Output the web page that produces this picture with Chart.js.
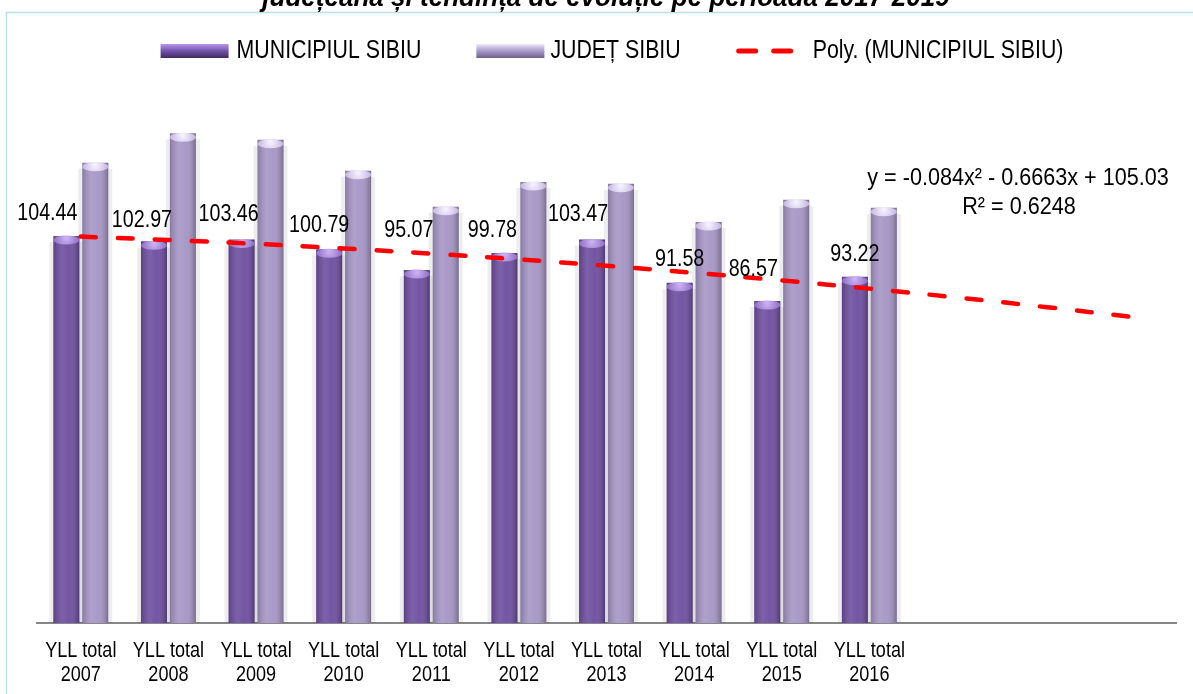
<!DOCTYPE html>
<html>
<head>
<meta charset="utf-8">
<script src="https://cdn.jsdelivr.net/npm/chart.js@4.4.1/dist/chart.umd.min.js"></script>
<style>
  html, body { margin: 0; padding: 0; background: #fff; }
  #wrap { position: relative; width: 1193px; height: 694px; }
</style>
</head>
<body>
<div id="wrap"><canvas id="yllChart"></canvas></div>
<script>
// values
const categories = [
  ['YLL total', '2007'], ['YLL total', '2008'], ['YLL total', '2009'], ['YLL total', '2010'],
  ['YLL total', '2011'], ['YLL total', '2012'], ['YLL total', '2013'], ['YLL total', '2014'],
  ['YLL total', '2015'], ['YLL total', '2016'], '', '', ''
];
const seriesNames = ['MUNICIPIUL SIBIU', 'JUDEȚ SIBIU', 'Poly. (MUNICIPIUL SIBIU)'];
const municipiu = [104.44, 102.97, 103.46, 100.79, 95.07, 99.78, 103.47, 91.58, 86.57, 93.22];
const judet = [124.6, 132.7, 130.9, 122.4, 112.5, 119.3, 118.8, 108.3, 114.4, 112.2];
// polynomial trend as drawn (2007..2019)
const polyTrend = [104.28, 103.36, 102.28, 101.02, 99.60, 98.01, 96.25, 94.32, 92.23, 89.97, 87.54, 84.94, 82.17];
const trendEquation = ['y = -0.084x² - 0.6663x + 105.03', 'R² = 0.6248'];
const titleText = 'județeană și tendința de evoluție pe perioada 2017-2019';

// hand placement of the value labels (px, relative to bar top)
const labelNudge = [[-19, -23], [-12, -21], [-13, -25], [-10, -24], [-8, -40],
                    [-12, -23], [-14, -25], [0, -23], [-14, -32], [0, -22]];

// no narrow font installed, so squeeze Liberation Sans horizontally
const FONT = '"Liberation Sans", Arial, sans-serif';
const NARROW = 0.82;

function narrowText(ctx, text, x, y, sx) {
  ctx.save();
  ctx.translate(x, y);
  ctx.scale(sx, 1);
  ctx.fillText(text, 0, 0);
  ctx.restore();
}

const decorPlugin = {
  id: 'decor',
  beforeDraw(chart) {
    const ctx = chart.ctx;
    ctx.save();
    // outer frame
    ctx.strokeStyle = '#b9dfe9';
    ctx.lineWidth = 1.5;
    ctx.strokeRect(6.5, 12.5, 1300, 800);

    // title, cut off at the top
    ctx.fillStyle = '#000';
    ctx.font = 'italic bold 28px ' + FONT;
    ctx.textAlign = 'center';
    ctx.textBaseline = 'alphabetic';
    narrowText(ctx, titleText, 606, 6, 0.93);

    // legend
    ctx.font = '26px ' + FONT;
    ctx.textBaseline = 'middle';
    ctx.textAlign = 'left';
    const swW = 68, swH = 14, cy = 51;
    const items = [
      { kind: 'bar', cols: ['#b898ea', '#7a58b2', '#3d2b5e'], gap: 8 },
      { kind: 'bar', cols: ['#f0e8fb', '#ae9fcd', '#6d6189'], gap: 6 },
      { kind: 'dash', gap: 19 }
    ];
    const itemGap = 55;
    let total = 0;
    items.forEach((it, i) => {
      it.tw = ctx.measureText(seriesNames[i]).width * NARROW;
      total += (it.kind === 'dash' ? 58 : swW) + it.gap + it.tw;
    });
    total += itemGap * (items.length - 1);
    let x = 612 - total / 2;
    items.forEach((it, i) => {
      if (it.kind === 'bar') {
        const g = ctx.createLinearGradient(0, cy - swH / 2, 0, cy + swH / 2);
        g.addColorStop(0, it.cols[0]);
        g.addColorStop(0.45, it.cols[1]);
        g.addColorStop(1, it.cols[2]);
        ctx.fillStyle = g;
        ctx.fillRect(x, cy - swH / 2, swW, swH);
        x += swW;
      } else {
        ctx.strokeStyle = '#ff0000';
        ctx.lineWidth = 5;
        ctx.lineCap = 'round';
        ctx.beginPath();
        ctx.moveTo(x + 3, cy); ctx.lineTo(x + 20, cy);
        ctx.moveTo(x + 38, cy); ctx.lineTo(x + 55, cy);
        ctx.stroke();
        x += 58;
      }
      x += it.gap;
      ctx.fillStyle = '#000';
      narrowText(ctx, seriesNames[i], x, cy, NARROW);
      x += it.tw + itemGap;
    });
    ctx.restore();
  },
  beforeDatasetsDraw(chart) {
    // soft grey halo behind each bar
    const ctx = chart.ctx;
    ctx.save();
    [0, 1].forEach(di => {
      chart.getDatasetMeta(di).data.forEach(bar => {
        const { x, y, base, width } = bar.getProps(['x', 'y', 'base', 'width'], true);
        ctx.fillStyle = 'rgba(0,0,0,0.07)';
        ctx.fillRect(x - width / 2 - 4, y + 6, width + 8, base - y - 6);
      });
    });
    ctx.restore();
  },
  afterDatasetDraw(chart, args) {
    if (args.index > 1) return;
    const ctx = chart.ctx;
    const capCols = args.index === 0 ? ['#c9b0f2', '#8d6cc4'] : ['#f6f0ff', '#c4b6de'];
    ctx.save();
    args.meta.data.forEach(bar => {
      const { x, y, base, width } = bar.getProps(['x', 'y', 'base', 'width'], true);
      const l = x - width / 2;
      // cylinder shading
      const g = ctx.createLinearGradient(l, 0, l + width, 0);
      g.addColorStop(0, 'rgba(0,0,0,0.18)');
      g.addColorStop(0.35, 'rgba(255,255,255,0.10)');
      g.addColorStop(0.6, 'rgba(255,255,255,0.04)');
      g.addColorStop(1, 'rgba(0,0,0,0.28)');
      ctx.fillStyle = g;
      ctx.fillRect(l, y, width, base - y);
      // top cap
      const cg = ctx.createRadialGradient(x, y + 2, 1, x, y + 4, width / 2);
      cg.addColorStop(0, capCols[0]);
      cg.addColorStop(1, capCols[1]);
      ctx.fillStyle = cg;
      ctx.beginPath();
      ctx.ellipse(x, y + 4, width / 2, 4.5, 0, 0, Math.PI * 2);
      ctx.fill();
    });
    ctx.restore();
  },
  afterDatasetsDraw(chart) {
    const ctx = chart.ctx;
    ctx.save();
    ctx.fillStyle = '#000';
    ctx.textAlign = 'center';

    // category labels under the axis, at the x scale's tick positions
    const xs = chart.scales.x;
    ctx.font = '22px ' + FONT;
    ctx.textBaseline = 'alphabetic';
    categories.forEach((c, i) => {
      if (!Array.isArray(c)) return;
      const px = xs.getPixelForValue(i);
      narrowText(ctx, c[0], px, 657, NARROW);
      narrowText(ctx, c[1], px, 681, NARROW);
    });

    // value labels
    ctx.font = '24px ' + FONT;
    ctx.textBaseline = 'middle';
    chart.getDatasetMeta(0).data.forEach((bar, i) => {
      const { x, y } = bar.getProps(['x', 'y'], true);
      narrowText(ctx, municipiu[i].toFixed(2), x + labelNudge[i][0], y + labelNudge[i][1], NARROW);
    });

    // trend equation
    narrowText(ctx, trendEquation[0], 1018, 178, 0.9);
    narrowText(ctx, trendEquation[1], 1019, 207, 0.9);
    ctx.restore();
  }
};

const ctx = document.getElementById('yllChart').getContext('2d');
const chart = new Chart(ctx, {
  type: 'bar',
  data: {
    labels: categories,
    datasets: [
      {
        label: seriesNames[0],
        data: municipiu,
        backgroundColor: '#6e4ea0',
        base: -2,
        order: 1,
        categoryPercentage: 0.66,
        barPercentage: 0.9
      },
      {
        label: seriesNames[1],
        data: judet,
        backgroundColor: '#a595c5',
        base: -2,
        order: 2,
        categoryPercentage: 0.66,
        barPercentage: 0.9
      },
      {
        type: 'line',
        label: seriesNames[2],
        data: polyTrend,
        borderColor: '#ff0000',
        borderWidth: 4.5,
        borderDash: [15, 22],
        borderCapStyle: 'round',
        pointRadius: 0,
        tension: 0.4,
        fill: false,
        order: 0
      }
    ]
  },
  options: {
    responsive: true,
    maintainAspectRatio: false,
    animation: false,
    layout: {
      padding: { top: 114, left: 37, right: 17, bottom: 71 }
    },
    plugins: {
      legend: { display: false },
      title: { display: false },
      tooltip: { enabled: false }
    },
    scales: {
      x: {
        grid: { display: false, drawTicks: false },
        border: { display: true, color: '#878787', width: 2 },
        ticks: { display: false }
      },
      y: {
        display: false,
        min: -2,
        max: 138
      }
    }
  },
  plugins: [decorPlugin]
});
</script>
</body>
</html>
